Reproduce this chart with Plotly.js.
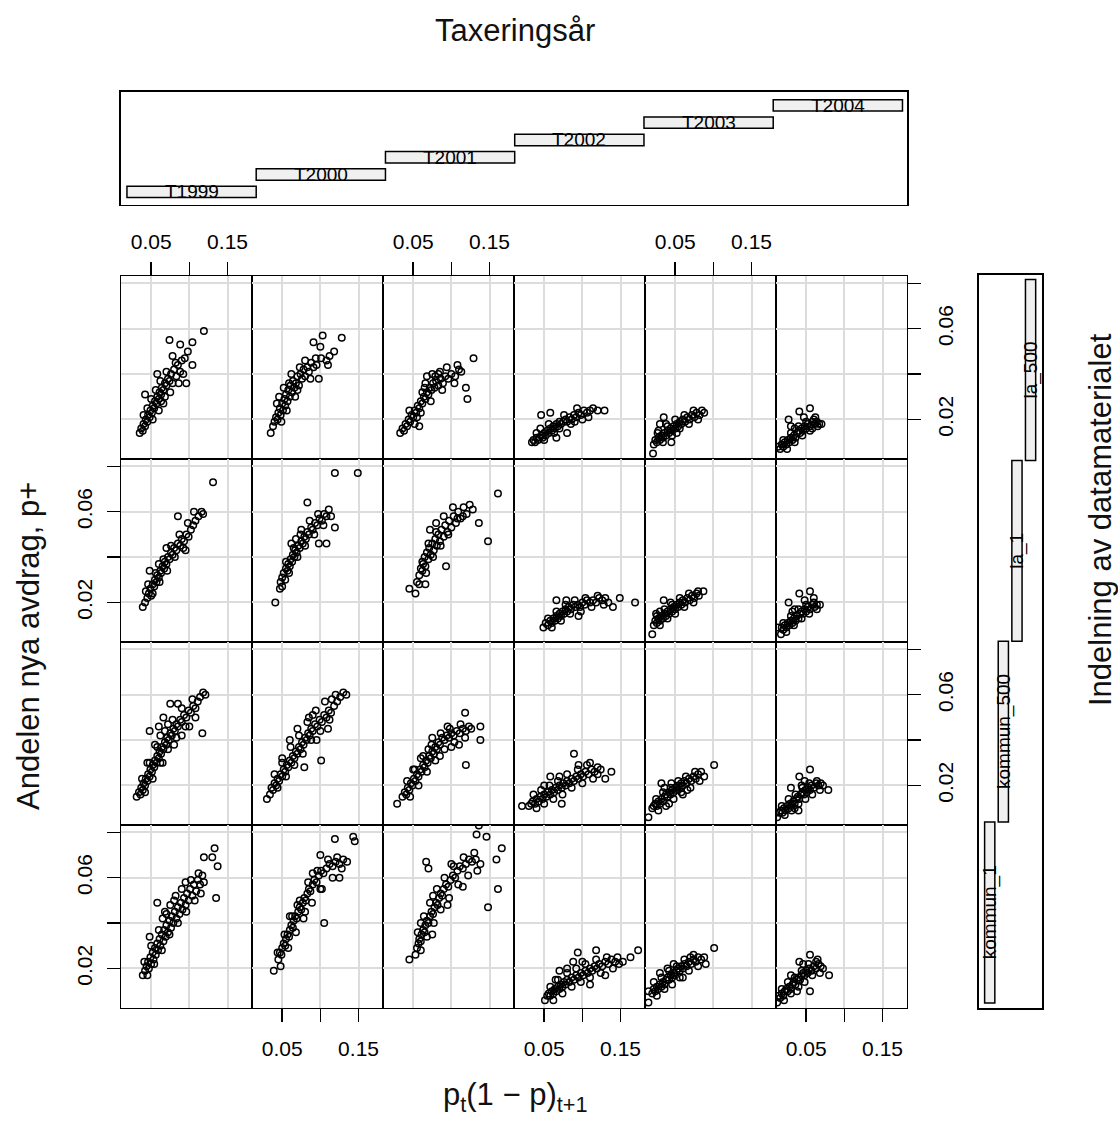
<!DOCTYPE html>
<html><head><meta charset="utf-8">
<script src="https://cdn.plot.ly/plotly-3.0.1.min.js"></script>
<style>body{margin:0;background:#fff}#chart{width:1118px;height:1124px}</style>
</head><body><div id="chart"></div>
<script>
// ---- categories / ticks ----
const years = ['T1999','T2000','T2001','T2002','T2003','T2004'];
const yearLevels = [1,2,3,4,5,6];
const yearStart = [0.5,1.5,2.5,3.5,4.5,5.5];
const yearEnd = [1.5,2.5,3.5,4.5,5.5,6.5];
const groups = ['kommun_1','kommun_500','la_1','la_500'];
const groupLevels = [1,2,3,4];
const groupStart = [0.5,1.5,2.5,3.5];
const groupEnd = [1.5,2.5,3.5,4.5];
const xTickVals = [0.05,0.15];
const xTickText = ['0.05','0.15'];
const xMinorVals = [0.10];
const yTickVals = [0.02,0.06];
const yTickText = ['0.02','0.06'];
const yMinorVals = [0.04,0.08];

// ---- points [x, y] per panel: group la_500 ----
const la500_T1999 = [[0.035,0.014],[0.037,0.016],[0.039,0.015],[0.040,0.018],[0.042,0.017],[0.043,0.020],[0.045,0.019],[0.046,0.022],[0.048,0.021],[0.049,0.024],[0.051,0.023],[0.052,0.026],[0.054,0.025],[0.055,0.028],[0.057,0.027],[0.058,0.030],[0.060,0.029],[0.061,0.032],[0.063,0.031],[0.064,0.034],[0.066,0.033],[0.068,0.036],[0.070,0.035],[0.072,0.038],[0.074,0.037],[0.076,0.040],[0.078,0.036],[0.080,0.042],[0.083,0.039],[0.085,0.044],[0.088,0.041],[0.090,0.046],[0.042,0.031],[0.058,0.040],[0.096,0.036],[0.104,0.044],[0.078,0.048],[0.088,0.053],[0.104,0.054],[0.098,0.050],[0.094,0.047],[0.074,0.055],[0.119,0.059],[0.050,0.029],[0.066,0.027],[0.062,0.037],
  [0.045,0.025],[0.052,0.020],[0.060,0.024],[0.068,0.030],[0.075,0.032],[0.082,0.045],[0.086,0.036],[0.070,0.041],[0.056,0.033],[0.040,0.022],[0.092,0.040],[0.063,0.028]];
const la500_T2000 = [[0.035,0.014],[0.038,0.017],[0.040,0.019],[0.042,0.021],[0.044,0.020],[0.045,0.023],[0.047,0.025],[0.048,0.022],[0.050,0.027],[0.051,0.024],[0.053,0.029],[0.054,0.026],[0.055,0.031],[0.057,0.028],[0.058,0.033],[0.060,0.030],[0.061,0.035],[0.063,0.032],[0.064,0.037],[0.066,0.034],[0.068,0.036],[0.070,0.039],[0.072,0.035],[0.074,0.040],[0.076,0.038],[0.078,0.042],[0.080,0.039],[0.083,0.043],[0.085,0.041],[0.088,0.045],[0.091,0.043],[0.094,0.047],[0.098,0.038],[0.108,0.046],[0.112,0.048],[0.118,0.050],[0.110,0.044],[0.091,0.054],[0.103,0.057],[0.128,0.056],[0.100,0.052],[0.052,0.034],[0.046,0.030],
  [0.043,0.027],[0.049,0.019],[0.056,0.024],[0.062,0.040],[0.067,0.030],[0.073,0.043],[0.080,0.046],[0.087,0.038],[0.095,0.044],[0.070,0.033],[0.059,0.036],[0.101,0.047]];
const la500_T2001 = [[0.033,0.014],[0.036,0.016],[0.038,0.015],[0.040,0.018],[0.042,0.017],[0.044,0.020],[0.046,0.019],[0.048,0.022],[0.050,0.021],[0.052,0.024],[0.054,0.023],[0.056,0.026],[0.058,0.025],[0.060,0.028],[0.062,0.027],[0.064,0.030],[0.066,0.029],[0.068,0.032],[0.070,0.031],[0.072,0.034],[0.074,0.033],[0.076,0.036],[0.078,0.034],[0.080,0.037],[0.083,0.035],[0.086,0.038],[0.089,0.036],[0.092,0.039],[0.096,0.038],[0.100,0.040],[0.105,0.039],[0.110,0.042],[0.113,0.041],[0.068,0.039],[0.075,0.040],[0.085,0.041],[0.058,0.017],[0.119,0.034],[0.121,0.029],[0.129,0.047],[0.055,0.021],[0.065,0.034],
  [0.045,0.024],[0.052,0.018],[0.060,0.023],[0.066,0.036],[0.073,0.028],[0.079,0.039],[0.088,0.033],[0.094,0.043],[0.104,0.036],[0.108,0.044],[0.062,0.032],[0.083,0.040]];
const la500_T2002 = [[0.034,0.010],[0.036,0.011],[0.038,0.010],[0.040,0.012],[0.042,0.011],[0.044,0.012],[0.046,0.013],[0.048,0.012],[0.050,0.014],[0.052,0.013],[0.054,0.015],[0.056,0.014],[0.058,0.016],[0.060,0.015],[0.062,0.017],[0.064,0.016],[0.066,0.018],[0.068,0.017],[0.070,0.019],[0.072,0.018],[0.075,0.019],[0.078,0.020],[0.080,0.019],[0.083,0.021],[0.086,0.020],[0.089,0.022],[0.092,0.021],[0.095,0.023],[0.098,0.022],[0.102,0.024],[0.106,0.023],[0.110,0.024],[0.114,0.025],[0.046,0.022],[0.058,0.023],[0.066,0.012],[0.129,0.024],[0.120,0.024],[0.080,0.014],
  [0.040,0.014],[0.050,0.011],[0.056,0.018],[0.063,0.014],[0.070,0.016],[0.076,0.022],[0.085,0.018],[0.093,0.025],[0.100,0.020],[0.108,0.021],[0.045,0.016],[0.090,0.019]];
const la500_T2003 = [[0.021,0.005],[0.022,0.009],[0.024,0.011],[0.026,0.010],[0.028,0.012],[0.030,0.011],[0.032,0.013],[0.034,0.012],[0.036,0.014],[0.038,0.013],[0.040,0.015],[0.042,0.014],[0.044,0.016],[0.046,0.015],[0.048,0.017],[0.050,0.016],[0.052,0.018],[0.054,0.017],[0.056,0.019],[0.058,0.018],[0.060,0.020],[0.063,0.019],[0.066,0.021],[0.069,0.020],[0.072,0.022],[0.075,0.021],[0.078,0.023],[0.082,0.022],[0.085,0.024],[0.088,0.023],[0.035,0.021],[0.030,0.018],[0.045,0.010],[0.027,0.014],
  [0.028,0.015],[0.034,0.010],[0.040,0.017],[0.046,0.013],[0.050,0.020],[0.056,0.016],[0.062,0.022],[0.068,0.018],[0.074,0.024],[0.080,0.020],[0.038,0.018],[0.052,0.014]];
const la500_T2004 = [[0.013,0.008],[0.016,0.007],[0.018,0.009],[0.020,0.008],[0.022,0.010],[0.024,0.009],[0.026,0.011],[0.028,0.010],[0.030,0.012],[0.032,0.011],[0.034,0.013],[0.036,0.012],[0.038,0.014],[0.040,0.015],[0.042,0.014],[0.044,0.016],[0.046,0.015],[0.048,0.017],[0.050,0.016],[0.052,0.018],[0.055,0.017],[0.058,0.019],[0.061,0.018],[0.064,0.019],[0.067,0.018],[0.070,0.018],[0.041,0.0235],[0.055,0.025],[0.027,0.020],[0.030,0.017],[0.047,0.021],[0.062,0.021],
  [0.020,0.011],[0.025,0.007],[0.030,0.014],[0.035,0.010],[0.040,0.017],[0.045,0.013],[0.050,0.019],[0.055,0.015],[0.060,0.020],[0.065,0.017],[0.035,0.016],[0.058,0.016]];

// ---- group la_1 ----
const la1_T1999 = [[0.039,0.018],[0.042,0.020],[0.043,0.025],[0.045,0.022],[0.047,0.024],[0.049,0.026],[0.050,0.023],[0.052,0.028],[0.054,0.027],[0.055,0.030],[0.057,0.029],[0.058,0.032],[0.060,0.031],[0.062,0.034],[0.063,0.033],[0.065,0.036],[0.067,0.035],[0.068,0.038],[0.070,0.037],[0.072,0.040],[0.074,0.039],[0.076,0.042],[0.078,0.041],[0.080,0.044],[0.083,0.043],[0.085,0.046],[0.088,0.045],[0.090,0.048],[0.093,0.047],[0.096,0.050],[0.099,0.049],[0.102,0.052],[0.105,0.054],[0.108,0.056],[0.112,0.058],[0.116,0.060],[0.118,0.059],[0.048,0.034],[0.085,0.058],[0.131,0.073],[0.106,0.060],[0.095,0.043],[0.070,0.044],
  [0.046,0.028],[0.052,0.024],[0.056,0.033],[0.061,0.029],[0.066,0.039],[0.071,0.034],[0.076,0.045],[0.081,0.040],[0.087,0.050],[0.092,0.044],[0.098,0.055],[0.060,0.037]];
const la1_T2000 = [[0.041,0.020],[0.047,0.026],[0.048,0.029],[0.050,0.031],[0.052,0.033],[0.054,0.030],[0.055,0.035],[0.057,0.034],[0.058,0.037],[0.060,0.036],[0.061,0.039],[0.063,0.038],[0.064,0.041],[0.066,0.040],[0.067,0.043],[0.069,0.042],[0.071,0.045],[0.073,0.044],[0.075,0.047],[0.077,0.046],[0.079,0.049],[0.081,0.048],[0.083,0.051],[0.085,0.050],[0.088,0.053],[0.090,0.052],[0.093,0.055],[0.096,0.054],[0.099,0.057],[0.102,0.056],[0.105,0.059],[0.108,0.058],[0.111,0.061],[0.114,0.058],[0.119,0.053],[0.108,0.046],[0.083,0.064],[0.119,0.077],[0.149,0.077],[0.062,0.046],[0.075,0.052],[0.098,0.046],
  [0.050,0.027],[0.055,0.038],[0.059,0.033],[0.065,0.044],[0.070,0.040],[0.074,0.050],[0.080,0.045],[0.086,0.056],[0.092,0.050],[0.097,0.059],[0.104,0.054],[0.068,0.048]];
const la1_T2001 = [[0.045,0.026],[0.053,0.024],[0.055,0.029],[0.058,0.032],[0.060,0.035],[0.062,0.034],[0.063,0.037],[0.065,0.040],[0.066,0.036],[0.068,0.042],[0.070,0.039],[0.071,0.044],[0.073,0.041],[0.075,0.046],[0.077,0.043],[0.079,0.048],[0.081,0.045],[0.083,0.050],[0.085,0.047],[0.087,0.052],[0.090,0.049],[0.092,0.054],[0.095,0.051],[0.097,0.056],[0.100,0.053],[0.103,0.058],[0.106,0.055],[0.109,0.060],[0.112,0.057],[0.116,0.062],[0.120,0.059],[0.124,0.063],[0.128,0.061],[0.136,0.055],[0.148,0.047],[0.093,0.036],[0.161,0.068],[0.072,0.052],[0.080,0.055],[0.066,0.028],
  [0.058,0.028],[0.062,0.038],[0.067,0.033],[0.070,0.046],[0.076,0.040],[0.080,0.051],[0.086,0.045],[0.090,0.058],[0.096,0.050],[0.102,0.062],[0.108,0.057],[0.115,0.058]];
const la1_T2002 = [[0.049,0.009],[0.052,0.011],[0.055,0.010],[0.058,0.012],[0.060,0.011],[0.062,0.013],[0.064,0.012],[0.066,0.014],[0.068,0.013],[0.070,0.015],[0.072,0.014],[0.074,0.016],[0.076,0.015],[0.078,0.017],[0.080,0.016],[0.082,0.018],[0.085,0.017],[0.088,0.019],[0.091,0.018],[0.094,0.019],[0.097,0.018],[0.100,0.020],[0.103,0.019],[0.106,0.021],[0.110,0.020],[0.114,0.021],[0.118,0.020],[0.122,0.022],[0.126,0.021],[0.130,0.022],[0.134,0.020],[0.149,0.022],[0.169,0.020],[0.066,0.021],[0.079,0.021],[0.140,0.018],[0.095,0.014],
  [0.055,0.013],[0.060,0.009],[0.066,0.016],[0.072,0.012],[0.078,0.019],[0.084,0.015],[0.090,0.021],[0.098,0.016],[0.104,0.022],[0.112,0.018],[0.120,0.023],[0.128,0.019]];
const la1_T2003 = [[0.020,0.006],[0.022,0.010],[0.024,0.012],[0.026,0.011],[0.028,0.013],[0.030,0.012],[0.032,0.014],[0.034,0.013],[0.036,0.015],[0.038,0.014],[0.040,0.016],[0.042,0.015],[0.044,0.017],[0.046,0.016],[0.048,0.018],[0.050,0.017],[0.052,0.019],[0.054,0.018],[0.056,0.020],[0.058,0.019],[0.060,0.021],[0.063,0.020],[0.066,0.022],[0.069,0.021],[0.072,0.023],[0.075,0.022],[0.078,0.024],[0.081,0.023],[0.087,0.025],[0.035,0.021],[0.030,0.016],[0.025,0.015],
  [0.026,0.014],[0.030,0.010],[0.036,0.017],[0.040,0.013],[0.046,0.019],[0.050,0.015],[0.056,0.022],[0.062,0.018],[0.068,0.024],[0.074,0.020],[0.080,0.025],[0.044,0.020]];
const la1_T2004 = [[0.017,0.006],[0.018,0.009],[0.020,0.008],[0.022,0.010],[0.024,0.009],[0.026,0.011],[0.028,0.010],[0.030,0.012],[0.032,0.011],[0.034,0.013],[0.036,0.012],[0.038,0.014],[0.040,0.013],[0.042,0.015],[0.044,0.016],[0.046,0.015],[0.048,0.017],[0.050,0.016],[0.052,0.018],[0.055,0.017],[0.058,0.019],[0.061,0.018],[0.064,0.019],[0.068,0.019],[0.041,0.024],[0.055,0.025],[0.027,0.020],[0.013,0.009],[0.035,0.017],[0.060,0.022],
  [0.020,0.011],[0.024,0.007],[0.030,0.014],[0.034,0.010],[0.040,0.017],[0.044,0.013],[0.050,0.019],[0.054,0.015],[0.060,0.020],[0.064,0.017],[0.032,0.016],[0.048,0.021]];

// ---- group kommun_500 ----
const kommun500_T1999 = [[0.031,0.015],[0.034,0.017],[0.036,0.016],[0.037,0.019],[0.039,0.018],[0.040,0.021],[0.042,0.020],[0.043,0.023],[0.045,0.022],[0.046,0.025],[0.048,0.024],[0.049,0.027],[0.051,0.026],[0.052,0.029],[0.054,0.028],[0.055,0.031],[0.057,0.030],[0.058,0.033],[0.060,0.032],[0.061,0.035],[0.063,0.034],[0.064,0.037],[0.066,0.036],[0.068,0.039],[0.070,0.038],[0.071,0.041],[0.073,0.040],[0.075,0.043],[0.077,0.042],[0.079,0.045],[0.081,0.044],[0.083,0.047],[0.085,0.046],[0.088,0.049],[0.090,0.048],[0.093,0.051],[0.096,0.050],[0.099,0.053],[0.102,0.052],[0.105,0.055],[0.108,0.054],[0.111,0.057],[0.114,0.059],[0.118,0.061],[0.121,0.060],[0.048,0.044],[0.075,0.056],[0.085,0.056],[0.117,0.043],[0.045,0.030],[0.055,0.038],[0.065,0.030],[0.080,0.038],[0.090,0.042],[0.100,0.046],[0.062,0.042],[0.072,0.047],
  [0.038,0.023],[0.042,0.017],[0.048,0.030],[0.052,0.023],[0.058,0.037],[0.062,0.030],[0.068,0.044],[0.072,0.036],[0.078,0.049],[0.083,0.041],[0.090,0.054],[0.095,0.046],[0.104,0.058],[0.108,0.050],[0.060,0.046],[0.066,0.050]];
const kommun500_T2000 = [[0.030,0.014],[0.034,0.016],[0.036,0.019],[0.038,0.018],[0.040,0.021],[0.042,0.020],[0.044,0.023],[0.046,0.022],[0.048,0.025],[0.050,0.024],[0.052,0.027],[0.054,0.026],[0.056,0.029],[0.058,0.028],[0.060,0.031],[0.062,0.030],[0.064,0.033],[0.066,0.032],[0.068,0.035],[0.070,0.034],[0.072,0.037],[0.074,0.036],[0.076,0.039],[0.078,0.038],[0.080,0.041],[0.082,0.040],[0.084,0.043],[0.086,0.042],[0.088,0.045],[0.090,0.044],[0.093,0.047],[0.096,0.046],[0.099,0.049],[0.102,0.048],[0.105,0.051],[0.108,0.050],[0.111,0.053],[0.114,0.052],[0.118,0.055],[0.122,0.057],[0.126,0.059],[0.130,0.061],[0.134,0.060],[0.101,0.031],[0.079,0.028],[0.060,0.040],[0.070,0.045],[0.085,0.050],[0.095,0.040],[0.110,0.045],[0.050,0.032],[0.115,0.058],
  [0.040,0.025],[0.044,0.019],[0.050,0.030],[0.055,0.024],[0.061,0.037],[0.066,0.029],[0.072,0.042],[0.077,0.034],[0.083,0.048],[0.088,0.040],[0.094,0.053],[0.100,0.044],[0.106,0.057],[0.112,0.049],[0.120,0.060],[0.090,0.051]];
const kommun500_T2001 = [[0.029,0.012],[0.036,0.015],[0.039,0.017],[0.041,0.016],[0.043,0.019],[0.045,0.018],[0.047,0.021],[0.049,0.020],[0.051,0.023],[0.053,0.022],[0.055,0.025],[0.057,0.024],[0.059,0.027],[0.061,0.026],[0.063,0.029],[0.065,0.028],[0.067,0.031],[0.069,0.030],[0.071,0.033],[0.073,0.032],[0.075,0.035],[0.077,0.034],[0.079,0.037],[0.081,0.036],[0.083,0.039],[0.085,0.038],[0.088,0.041],[0.091,0.040],[0.094,0.042],[0.097,0.041],[0.100,0.043],[0.103,0.042],[0.107,0.044],[0.111,0.043],[0.115,0.045],[0.119,0.044],[0.123,0.046],[0.126,0.045],[0.118,0.052],[0.138,0.046],[0.138,0.040],[0.119,0.029],[0.060,0.032],[0.070,0.036],[0.085,0.033],[0.100,0.037],[0.050,0.027],[0.110,0.038],
  [0.042,0.022],[0.046,0.015],[0.052,0.027],[0.057,0.020],[0.063,0.033],[0.068,0.026],[0.074,0.038],[0.079,0.031],[0.086,0.043],[0.091,0.036],[0.098,0.045],[0.104,0.039],[0.112,0.047],[0.118,0.041],[0.075,0.041],[0.095,0.046]];
const kommun500_T2002 = [[0.021,0.011],[0.030,0.011],[0.033,0.012],[0.035,0.013],[0.038,0.012],[0.040,0.014],[0.043,0.013],[0.045,0.015],[0.048,0.014],[0.050,0.016],[0.053,0.015],[0.055,0.017],[0.058,0.016],[0.060,0.018],[0.063,0.017],[0.065,0.019],[0.068,0.018],[0.070,0.020],[0.073,0.019],[0.075,0.021],[0.078,0.020],[0.080,0.022],[0.083,0.021],[0.086,0.023],[0.089,0.022],[0.092,0.024],[0.095,0.023],[0.098,0.025],[0.101,0.024],[0.104,0.026],[0.108,0.025],[0.112,0.027],[0.116,0.026],[0.120,0.028],[0.124,0.027],[0.058,0.024],[0.089,0.034],[0.138,0.026],[0.073,0.012],[0.095,0.029],[0.110,0.030],[0.070,0.024],[0.130,0.023],
  [0.036,0.016],[0.040,0.010],[0.046,0.018],[0.050,0.012],[0.057,0.020],[0.062,0.014],[0.068,0.022],[0.074,0.016],[0.080,0.025],[0.086,0.019],[0.094,0.027],[0.100,0.021],[0.106,0.029],[0.114,0.023],[0.120,0.025],[0.050,0.020]];
const kommun500_T2003 = [[0.015,0.006],[0.020,0.010],[0.022,0.011],[0.024,0.012],[0.026,0.011],[0.028,0.013],[0.030,0.012],[0.032,0.014],[0.034,0.013],[0.036,0.015],[0.038,0.016],[0.040,0.015],[0.042,0.017],[0.044,0.016],[0.046,0.018],[0.048,0.017],[0.050,0.019],[0.052,0.018],[0.054,0.020],[0.056,0.019],[0.058,0.021],[0.060,0.020],[0.062,0.022],[0.065,0.021],[0.068,0.023],[0.071,0.022],[0.074,0.024],[0.077,0.023],[0.080,0.025],[0.084,0.026],[0.088,0.024],[0.101,0.029],[0.032,0.021],[0.036,0.019],[0.045,0.021],[0.060,0.016],
  [0.025,0.014],[0.028,0.009],[0.034,0.017],[0.038,0.011],[0.044,0.019],[0.048,0.014],[0.054,0.022],[0.058,0.017],[0.064,0.024],[0.070,0.019],[0.076,0.026],[0.082,0.022],[0.042,0.012],[0.066,0.018]];
const kommun500_T2004 = [[0.012,0.006],[0.015,0.008],[0.017,0.009],[0.019,0.008],[0.021,0.010],[0.023,0.009],[0.025,0.011],[0.027,0.010],[0.029,0.012],[0.031,0.011],[0.033,0.013],[0.035,0.012],[0.037,0.014],[0.039,0.015],[0.041,0.014],[0.043,0.016],[0.045,0.017],[0.047,0.016],[0.049,0.018],[0.051,0.017],[0.053,0.019],[0.055,0.018],[0.057,0.020],[0.060,0.019],[0.063,0.021],[0.066,0.020],[0.069,0.021],[0.072,0.020],[0.079,0.018],[0.055,0.027],[0.041,0.024],[0.030,0.019],[0.048,0.022],[0.040,0.009],
  [0.018,0.011],[0.022,0.007],[0.027,0.014],[0.031,0.009],[0.036,0.016],[0.040,0.012],[0.045,0.019],[0.049,0.014],[0.054,0.021],[0.058,0.016],[0.064,0.022],[0.068,0.018],[0.044,0.020],[0.035,0.010]];

// ---- group kommun_1 ----
const kommun1_T1999 = [[0.039,0.017],[0.042,0.019],[0.044,0.021],[0.046,0.023],[0.047,0.020],[0.049,0.025],[0.050,0.022],[0.052,0.027],[0.053,0.024],[0.055,0.029],[0.056,0.026],[0.058,0.031],[0.059,0.028],[0.061,0.033],[0.062,0.030],[0.064,0.035],[0.066,0.032],[0.067,0.037],[0.069,0.034],[0.070,0.039],[0.072,0.036],[0.074,0.041],[0.076,0.038],[0.077,0.043],[0.079,0.040],[0.081,0.045],[0.083,0.042],[0.085,0.047],[0.087,0.044],[0.089,0.049],[0.091,0.046],[0.093,0.051],[0.095,0.048],[0.097,0.053],[0.099,0.050],[0.101,0.055],[0.104,0.052],[0.106,0.057],[0.109,0.054],[0.111,0.059],[0.114,0.057],[0.117,0.061],[0.119,0.058],[0.133,0.073],[0.119,0.069],[0.137,0.065],[0.130,0.069],[0.058,0.049],[0.135,0.051],[0.048,0.034],[0.075,0.048],[0.065,0.042],[0.095,0.058],
  [0.041,0.023],[0.045,0.017],[0.050,0.030],[0.054,0.022],[0.060,0.037],[0.064,0.028],[0.070,0.044],[0.074,0.035],[0.080,0.050],[0.085,0.040],[0.090,0.055],[0.096,0.045],[0.102,0.059],[0.107,0.050],[0.112,0.062],[0.115,0.053],[0.068,0.045],[0.082,0.052]];
const kommun1_T2000 = [[0.039,0.019],[0.045,0.024],[0.047,0.027],[0.049,0.026],[0.050,0.029],[0.052,0.031],[0.054,0.030],[0.055,0.033],[0.057,0.035],[0.059,0.034],[0.060,0.037],[0.062,0.039],[0.064,0.038],[0.065,0.041],[0.067,0.043],[0.069,0.042],[0.071,0.045],[0.073,0.047],[0.075,0.046],[0.077,0.049],[0.079,0.051],[0.081,0.050],[0.083,0.053],[0.085,0.055],[0.087,0.054],[0.090,0.057],[0.092,0.059],[0.095,0.058],[0.098,0.061],[0.101,0.063],[0.104,0.062],[0.108,0.064],[0.112,0.066],[0.116,0.065],[0.120,0.067],[0.125,0.066],[0.130,0.068],[0.135,0.067],[0.105,0.040],[0.119,0.077],[0.145,0.076],[0.143,0.078],[0.100,0.070],[0.060,0.043],[0.080,0.045],[0.100,0.055],[0.125,0.060],
  [0.044,0.027],[0.048,0.021],[0.053,0.035],[0.058,0.029],[0.063,0.043],[0.068,0.036],[0.073,0.050],[0.078,0.042],[0.084,0.058],[0.089,0.049],[0.096,0.063],[0.102,0.055],[0.110,0.068],[0.116,0.060],[0.122,0.069],[0.128,0.064],[0.070,0.048],[0.090,0.062]];
const kommun1_T2001 = [[0.045,0.024],[0.053,0.026],[0.055,0.029],[0.057,0.031],[0.058,0.033],[0.060,0.032],[0.061,0.035],[0.063,0.037],[0.065,0.036],[0.066,0.039],[0.068,0.041],[0.070,0.040],[0.072,0.043],[0.074,0.045],[0.076,0.044],[0.078,0.047],[0.080,0.049],[0.082,0.048],[0.084,0.051],[0.086,0.053],[0.088,0.052],[0.090,0.055],[0.093,0.057],[0.096,0.056],[0.099,0.059],[0.102,0.061],[0.105,0.060],[0.108,0.063],[0.111,0.065],[0.115,0.064],[0.119,0.066],[0.123,0.068],[0.127,0.067],[0.132,0.068],[0.138,0.066],[0.136,0.083],[0.133,0.079],[0.146,0.078],[0.166,0.073],[0.159,0.068],[0.161,0.055],[0.148,0.047],[0.067,0.067],[0.070,0.064],[0.075,0.035],[0.095,0.048],[0.115,0.056],[0.060,0.040],
  [0.056,0.036],[0.060,0.028],[0.064,0.043],[0.068,0.034],[0.072,0.049],[0.077,0.040],[0.081,0.055],[0.086,0.046],[0.091,0.060],[0.097,0.051],[0.103,0.065],[0.109,0.057],[0.116,0.069],[0.122,0.061],[0.130,0.071],[0.134,0.063],[0.076,0.052],[0.100,0.066]];
const kommun1_T2002 = [[0.051,0.006],[0.054,0.008],[0.056,0.009],[0.058,0.008],[0.060,0.010],[0.062,0.009],[0.064,0.011],[0.066,0.010],[0.068,0.012],[0.070,0.011],[0.072,0.013],[0.074,0.012],[0.076,0.014],[0.078,0.013],[0.080,0.015],[0.083,0.014],[0.086,0.016],[0.089,0.015],[0.092,0.017],[0.095,0.016],[0.098,0.018],[0.101,0.017],[0.104,0.019],[0.107,0.018],[0.110,0.020],[0.113,0.019],[0.116,0.021],[0.119,0.020],[0.122,0.022],[0.126,0.021],[0.130,0.023],[0.134,0.022],[0.138,0.024],[0.143,0.023],[0.148,0.022],[0.153,0.023],[0.094,0.027],[0.118,0.028],[0.163,0.025],[0.173,0.028],[0.070,0.019],[0.080,0.020],[0.100,0.023],[0.110,0.013],[0.130,0.017],[0.065,0.015],
  [0.058,0.012],[0.062,0.006],[0.068,0.015],[0.074,0.009],[0.080,0.018],[0.086,0.012],[0.092,0.020],[0.098,0.014],[0.104,0.022],[0.110,0.016],[0.118,0.024],[0.124,0.018],[0.132,0.025],[0.140,0.020],[0.146,0.025],[0.088,0.023]];
const kommun1_T2003 = [[0.015,0.005],[0.015,0.010],[0.020,0.009],[0.022,0.011],[0.024,0.010],[0.026,0.012],[0.028,0.011],[0.030,0.013],[0.032,0.012],[0.034,0.014],[0.036,0.013],[0.038,0.015],[0.040,0.016],[0.042,0.015],[0.044,0.017],[0.046,0.016],[0.048,0.018],[0.050,0.017],[0.052,0.019],[0.054,0.020],[0.056,0.019],[0.058,0.021],[0.060,0.020],[0.062,0.022],[0.065,0.021],[0.068,0.023],[0.071,0.022],[0.074,0.024],[0.077,0.023],[0.080,0.025],[0.084,0.024],[0.088,0.025],[0.101,0.029],[0.030,0.018],[0.040,0.020],[0.060,0.016],[0.090,0.022],
  [0.022,0.014],[0.026,0.008],[0.032,0.016],[0.036,0.011],[0.042,0.019],[0.046,0.013],[0.052,0.021],[0.056,0.016],[0.062,0.024],[0.068,0.019],[0.074,0.026],[0.080,0.021],[0.048,0.022],[0.070,0.025]];
const kommun1_T2004 = [[0.012,0.005],[0.014,0.008],[0.016,0.007],[0.018,0.009],[0.020,0.008],[0.022,0.010],[0.024,0.011],[0.026,0.010],[0.028,0.012],[0.030,0.011],[0.032,0.013],[0.034,0.014],[0.036,0.013],[0.038,0.015],[0.040,0.016],[0.042,0.015],[0.044,0.017],[0.046,0.018],[0.048,0.017],[0.050,0.019],[0.052,0.018],[0.054,0.020],[0.057,0.019],[0.060,0.021],[0.063,0.020],[0.066,0.022],[0.069,0.021],[0.072,0.020],[0.055,0.026],[0.065,0.024],[0.041,0.023],[0.080,0.017],[0.055,0.010],[0.030,0.017],
  [0.018,0.011],[0.021,0.006],[0.026,0.014],[0.030,0.009],[0.035,0.016],[0.040,0.012],[0.044,0.019],[0.048,0.014],[0.053,0.022],[0.058,0.017],[0.063,0.023],[0.068,0.018],[0.046,0.022],[0.038,0.010]];

// rows top->bottom, columns left->right
const panelRows = [
  [la500_T1999, la500_T2000, la500_T2001, la500_T2002, la500_T2003, la500_T2004],
  [la1_T1999, la1_T2000, la1_T2001, la1_T2002, la1_T2003, la1_T2004],
  [kommun500_T1999, kommun500_T2000, kommun500_T2001, kommun500_T2002, kommun500_T2003, kommun500_T2004],
  [kommun1_T1999, kommun1_T2000, kommun1_T2001, kommun1_T2002, kommun1_T2003, kommun1_T2004]
];

// ---- layout geometry ----
const W = 1118, H = 1124;
const FONT = 'Liberation Sans, Arial, Helvetica, sans-serif';
const colL = 121, colW = 131, rowT = 276, rowH = 183;
const xRange = [0.0105, 0.182], yRange = [0.0026, 0.0832];
const GRID = '#dcdcdc';

const traces = [];
const layout = {
  width: W, height: H, margin: {l:0, r:0, t:0, b:0},
  paper_bgcolor: '#fff', plot_bgcolor: '#fff', showlegend: false,
  hovermode: false, annotations: []
};
const tickFont = {family: FONT, size: 21, color: '#000'};

for (let r = 0; r < 4; r++) {
  for (let c = 0; c < 6; c++) {
    const k = r * 6 + c + 1;
    const sfx = k === 1 ? '' : String(k);
    const pts = panelRows[r][c];
    traces.push({
      type: 'scatter', mode: 'markers',
      x: pts.map(p => p[0]), y: pts.map(p => p[1]),
      xaxis: 'x' + sfx, yaxis: 'y' + sfx,
      marker: {symbol: 'circle-open', size: 6.5, color: '#000', line: {width: 1.5, color: '#000'}},
      cliponaxis: true
    });
    const top = r === 0 && c % 2 === 0;
    const bot = r === 3 && c % 2 === 1;
    const left = c === 0 && r % 2 === 1;
    const right = c === 5 && r % 2 === 0;
    const x0 = colL + c * colW, y0 = rowT + r * rowH;
    const xt = top || bot, yt = left || right;
    layout['xaxis' + sfx] = {
      domain: [x0 / W, (x0 + colW) / W], range: xRange, anchor: 'y' + sfx,
      tickmode: 'array', tickvals: xTickVals, ticktext: xTickText,
      showticklabels: xt, ticks: xt ? 'outside' : '',
      side: top ? 'top' : 'bottom', ticklen: 13, tickwidth: 1.5, tickcolor: '#000',
      ticklabelstandoff: top ? 4 : 8,
      showgrid: true, gridcolor: GRID, gridwidth: 2,
      minor: {tickmode: 'array', tickvals: xMinorVals, ticks: xt ? 'outside' : '', ticklen: 13, tickwidth: 1.5, tickcolor: '#000',
              showgrid: true, gridcolor: GRID, gridwidth: 2},
      showline: true, mirror: true, linecolor: '#000', linewidth: 1.4,
      zeroline: false, fixedrange: true, tickfont: tickFont
    };
    layout['yaxis' + sfx] = {
      domain: [1 - (y0 + rowH) / H, 1 - y0 / H], range: yRange, anchor: 'x' + sfx,
      tickmode: 'array', tickvals: yTickVals, ticktext: yTickText,
      showticklabels: yt, ticks: yt ? 'outside' : '',
      side: right ? 'right' : 'left', ticklen: 13, tickwidth: 1.5, tickcolor: '#000',
      tickangle: -90, ticklabelstandoff: 6,
      showgrid: true, gridcolor: GRID, gridwidth: 2,
      minor: {tickmode: 'array', tickvals: yMinorVals, ticks: yt ? 'outside' : '', ticklen: 13, tickwidth: 1.5, tickcolor: '#000',
              showgrid: true, gridcolor: GRID, gridwidth: 2},
      showline: true, mirror: true, linecolor: '#000', linewidth: 1.4,
      zeroline: false, fixedrange: true, tickfont: tickFont
    };
  }
}

// ---- top "given" panel (years) ----
const plain = {showgrid: false, zeroline: false, showticklabels: false, ticks: '',
  showline: true, mirror: true, linecolor: '#000', linewidth: 1.8, fixedrange: true};
layout.xaxis25 = Object.assign({}, plain, {domain: [121 / W, 907 / W], range: [0.454, 6.535], anchor: 'y25'});
layout.yaxis25 = Object.assign({}, plain, {domain: [1 - 204.5 / H, 1 - 91.5 / H], range: [0.27, 6.8], anchor: 'x25'});
traces.push({
  type: 'bar', orientation: 'h', xaxis: 'x25', yaxis: 'y25',
  y: yearLevels, base: yearStart, x: yearEnd.map((e, i) => e - yearStart[i]), width: 0.66,
  marker: {color: '#f0f0f0', line: {color: '#000', width: 1.5}}
});
years.forEach((t, i) => layout.annotations.push({
  xref: 'x25', yref: 'y25', x: yearLevels[i], y: yearLevels[i], text: t, showarrow: false,
  font: {family: FONT, size: 19, color: '#000'}, xanchor: 'center', yanchor: 'middle'
}));

// ---- right "given" panel (groups) ----
layout.xaxis26 = Object.assign({}, plain, {domain: [979 / W, 1042 / W], range: [0.212, 4.84], anchor: 'y26'});
layout.yaxis26 = Object.assign({}, plain, {domain: [1 - 1008 / H, 1 - 275 / H], range: [0.472, 4.525], anchor: 'x26'});
traces.push({
  type: 'bar', orientation: 'v', xaxis: 'x26', yaxis: 'y26',
  x: groupLevels, base: groupStart, y: groupEnd.map((e, i) => e - groupStart[i]), width: 0.75,
  marker: {color: '#f0f0f0', line: {color: '#000', width: 1.5}}
});
groups.forEach((g, i) => layout.annotations.push({
  xref: 'x26', yref: 'y26', x: groupLevels[i], y: groupLevels[i], text: g, showarrow: false,
  textangle: -90, font: {family: FONT, size: 19, color: '#000'}, xanchor: 'center', yanchor: 'middle'
}));

// ---- titles ----
const titleFont = {family: FONT, size: 31, color: '#111'};
layout.annotations.push(
  {xref: 'paper', yref: 'paper', x: 515 / W, y: 1 - 31 / H, text: 'Taxeringsår', showarrow: false, font: titleFont, xanchor: 'center', yanchor: 'middle'},
  {xref: 'paper', yref: 'paper', x: 28 / W, y: 1 - 646 / H, text: 'Andelen nya avdrag, p+', textangle: -90, showarrow: false, font: titleFont, xanchor: 'center', yanchor: 'middle'},
  {xref: 'paper', yref: 'paper', x: 1100 / W, y: 1 - 520 / H, text: 'Indelning av datamaterialet', textangle: -90, showarrow: false, font: titleFont, xanchor: 'center', yanchor: 'middle'},
  {xref: 'paper', yref: 'paper', x: 515 / W, y: 1 - 1097 / H, text: 'p<sub>t</sub>(1 − p)<sub>t+1</sub>', showarrow: false, font: titleFont, xanchor: 'center', yanchor: 'middle'}
);

Plotly.newPlot('chart', traces, layout, {staticPlot: true, displayModeBar: false});
</script>
</body></html>
